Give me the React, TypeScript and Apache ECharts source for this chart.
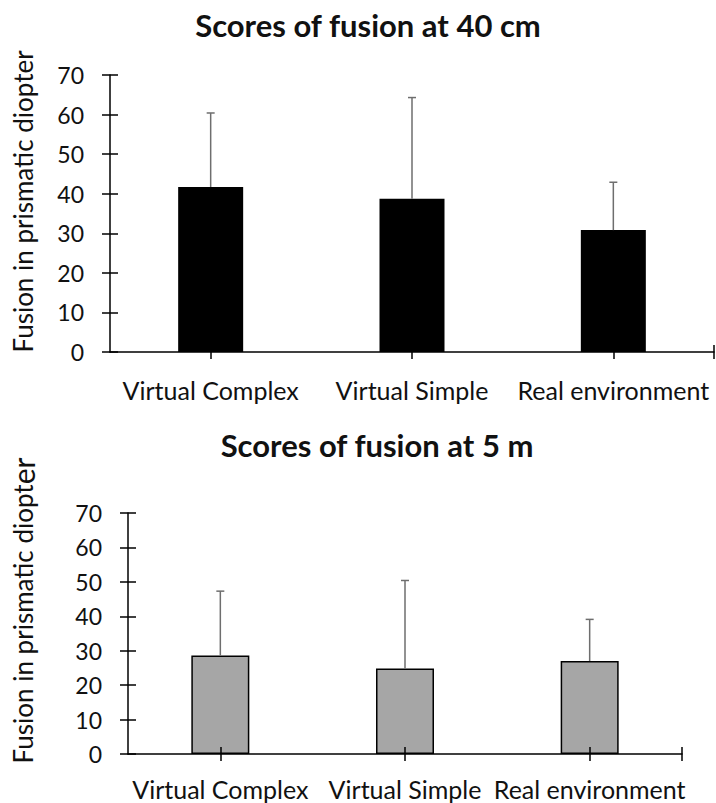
import React, { useEffect, useRef } from "react";
import * as echarts from "echarts";

const categories = ["Virtual Complex", "Virtual Simple", "Real environment"];
const near40cmMeans = [41.7, 38.7, 30.8];
const near40cmSD = [18.7, 25.6, 12.1];
const far5mMeans = [28.6, 24.8, 27.0];
const far5mSD = [18.7, 25.6, 12.1];
const yTicksMax = 70;
const yTicksInterval = 10;
const titles = ["Scores of fusion at 40 cm", "Scores of fusion at 5 m"];
const yNames = ["Fusion in prismatic diopter", "Fusion in prismatic diopt{big|er}"];

const FONT = "Lato";
const AX = { color: "#000", width: 1.5 };

export default function App() {
  const ref = useRef<HTMLDivElement>(null);
  useEffect(() => {
    const chart = echarts.init(ref.current!, null, { renderer: "svg" });

    const xAxesFor = (g: number, margin: number) => [
      {
        type: "category",
        gridIndex: g,
        position: "bottom",
        data: categories,
        boundaryGap: true,
        axisLine: { show: true, lineStyle: AX },
        axisTick: { show: true, alignWithLabel: true, inside: false, length: 7, lineStyle: AX },
        axisLabel: { fontFamily: FONT, fontSize: 25, color: "#111", margin, interval: 0 },
      },
      {
        type: "category",
        gridIndex: g,
        position: "bottom",
        data: categories,
        boundaryGap: true,
        z: 10,
        axisLine: { show: true, lineStyle: { color: "rgba(0,0,0,0)", width: 1 } },
        axisTick: { show: true, alignWithLabel: true, inside: true, length: 7, lineStyle: AX },
        axisLabel: { show: false },
      },
      {
        type: "category",
        gridIndex: g,
        position: "bottom",
        data: ["", ""],
        boundaryGap: false,
        z: 10,
        axisLine: { show: true, lineStyle: { color: "rgba(0,0,0,0)", width: 1 } },
        axisTick: { show: true, inside: false, length: 7, interval: (i: number) => i === 1, lineStyle: AX },
        axisLabel: { show: false },
      },
      {
        type: "category",
        gridIndex: g,
        position: "bottom",
        data: ["", ""],
        boundaryGap: false,
        z: 10,
        axisLine: { show: true, lineStyle: { color: "rgba(0,0,0,0)", width: 1 } },
        axisTick: { show: true, inside: true, length: 7, interval: (i: number) => i === 1, lineStyle: AX },
        axisLabel: { show: false },
      },
    ];

    const yAxesFor = (g: number, name: string, nameGap: number, shift: number) => [
      {
        type: "value",
        gridIndex: g,
        position: "left",
        min: 0,
        max: yTicksMax,
        interval: yTicksInterval,
        splitLine: { show: false },
        axisLine: { show: true, lineStyle: AX },
        axisTick: { show: true, inside: false, length: 8, lineStyle: AX },
        axisLabel: { fontFamily: FONT, fontSize: 23, color: "#111", margin: 26 },
        name,
        nameLocation: "middle",
        nameGap,
        nameTextStyle: {
          fontFamily: FONT,
          fontSize: 26,
          color: "#111",
          padding: [0, 0, 0, shift],
          rich: { big: { fontFamily: FONT, fontSize: 30, color: "#111" } },
        },
      },
      {
        type: "value",
        gridIndex: g,
        position: "left",
        min: 0,
        max: yTicksMax,
        interval: yTicksInterval,
        z: 10,
        splitLine: { show: false },
        axisLine: { show: true, lineStyle: { color: "rgba(0,0,0,0)", width: 1 } },
        axisTick: { show: true, inside: true, length: 8, lineStyle: AX },
        axisLabel: { show: false },
      },
    ];

    const errorSeries = (g: number, means: number[], sds: number[]) => ({
      type: "custom",
      xAxisIndex: g * 4,
      yAxisIndex: g * 2,
      z: 5,
      data: means.map((m, i) => [i, m, m + sds[i]]),
      renderItem: (params: any, api: any) => {
        const x = api.value(0);
        const p0 = api.coord([x, api.value(1)]);
        const p1 = api.coord([x, api.value(2)]);
        const style = { stroke: "#6e6e6e", lineWidth: 1.5 };
        return {
          type: "group",
          children: [
            { type: "line", shape: { x1: p0[0], y1: p0[1], x2: p1[0], y2: p1[1] }, style },
            { type: "line", shape: { x1: p1[0] - 4, y1: p1[1], x2: p1[0] + 4, y2: p1[1] }, style },
          ],
        };
      },
    });

    chart.setOption({
      animation: false,
      backgroundColor: "#fff",
      title: [
        { text: titles[0], left: 363, top: 4, textAlign: "center", textStyle: { fontFamily: FONT, fontWeight: "bold", fontSize: 31, color: "#111" } },
        { text: titles[1], left: 372, top: 424, textAlign: "center", textStyle: { fontFamily: FONT, fontWeight: "bold", fontSize: 31, color: "#111" } },
      ],
      grid: [
        { left: 110, top: 75, width: 604, height: 277, containLabel: false },
        { left: 128, top: 513, width: 554, height: 241, containLabel: false },
      ],
      xAxis: [...xAxesFor(0, 25), ...xAxesFor(1, 22)],
      yAxis: [...yAxesFor(0, yNames[0], 74, 24), ...yAxesFor(1, yNames[1], 90, 46)],
      series: [
        {
          type: "bar",
          xAxisIndex: 0,
          yAxisIndex: 0,
          barWidth: 65,
          data: near40cmMeans,
          itemStyle: { color: "#000" },
        },
        errorSeries(0, near40cmMeans, near40cmSD),
        {
          type: "bar",
          xAxisIndex: 4,
          yAxisIndex: 2,
          barWidth: 58,
          data: far5mMeans,
          itemStyle: { color: "#a6a6a6", borderColor: "#000", borderWidth: 1.5 },
        },
        errorSeries(1, far5mMeans, far5mSD),
      ],
    });
    return () => chart.dispose();
  }, []);
  return <div ref={ref} style={{ position: "fixed", left: 0, top: 0, width: 716, height: 803 }} />;
}
